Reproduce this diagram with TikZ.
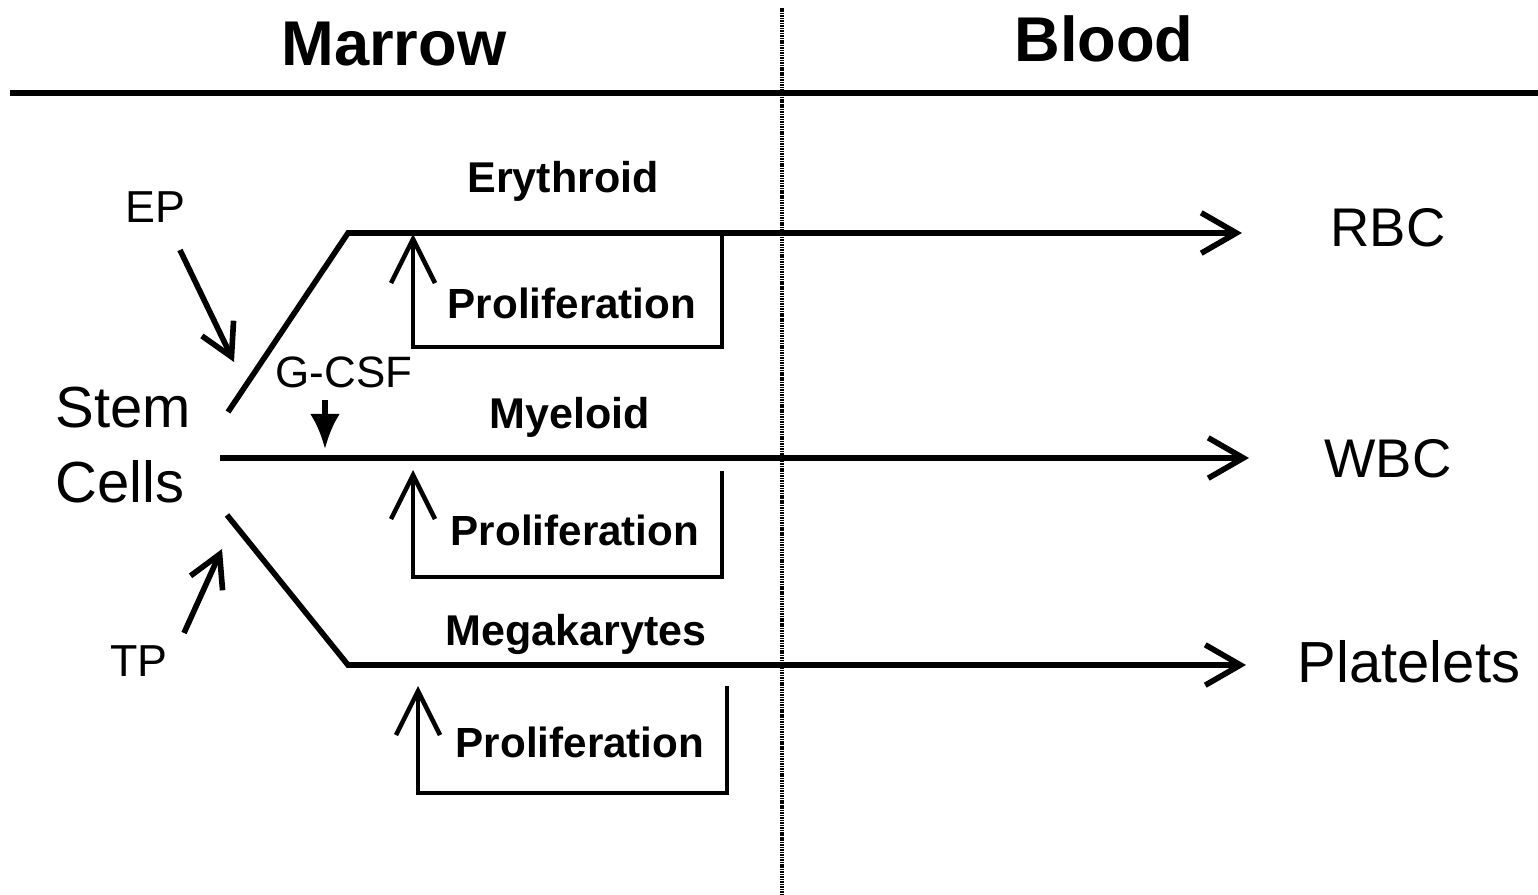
\documentclass[tikz,border=0pt]{standalone}
\usepackage{fontspec}
\setmainfont{Liberation Sans}
\usetikzlibrary{arrows.meta}
\begin{document}
\begin{tikzpicture}[x=0.02cm,y=-0.02cm,
  lbl/.style={inner sep=0pt,anchor=base},
  title/.style={lbl,font=\fontsize{36pt}{40pt}\selectfont\bfseries},
  lineage/.style={lbl,font=\fontsize{24.5pt}{28pt}\selectfont\bfseries},
  prolif/.style={lbl,font=\fontsize{24pt}{28pt}\selectfont\bfseries},
  cell/.style={lbl,font=\fontsize{31pt}{36pt}\selectfont},
  factor/.style={lbl,font=\fontsize{25.5pt}{30pt}\selectfont},
  rule/.style={line width=3.2pt},
  divider/.style={line width=1.8pt,dash pattern=on 0.9pt off 0.5pt},
  flow/.style={line width=3.2pt,-{Straight Barb[length=20pt,width=23pt]}},
  loopback/.style={line width=2.6pt,-{Straight Barb[length=25pt,width=25pt]}},
  cue/.style={line width=3.2pt,-{Straight Barb[length=18pt,width=20pt]}},
  gcue/.style={line width=3pt,-{Latex[length=20pt,width=17pt]}}
]
\useasboundingbox (0,0) rectangle (1538,895);

% header
\node[title] (marrow) at (394,66) {Marrow};
\node[title] (blood) at (1104,62) {Blood};
\coordinate (hl) at (10,93);
\coordinate (hr) at (1538,93);
\draw[rule] (hl) -- (hr);
\coordinate (vt) at (782,8);
\coordinate (vb) at (782,895);
\draw[divider] (vt) -- (vb);

% stem cells and growth factors
\node[cell,anchor=base west,font=\fontsize{33pt}{38pt}\selectfont] (stem) at (55,427) {Stem};
\node[cell,anchor=base west,font=\fontsize{33pt}{38pt}\selectfont] (cells) at (55,502) {Cells};
\node[factor] (ep) at (155,223) {EP};
\node[factor] (tp) at (139,676) {TP};
\node[factor,font=\fontsize{25pt}{30pt}\selectfont] (gcsf) at (344,387) {G-CSF};

% lineage labels
\node[lineage] (ery) at (563,193) {Erythroid};
\node[lineage] (mye) at (570,428) {Myeloid};
\node[lineage] (meg) at (576,645) {Megakarytes};

% blood products
\node[cell] (rbc) at (1388,247) {RBC};
\node[cell] (wbc) at (1388,477) {WBC};
\node[cell,font=\fontsize{33pt}{38pt}\selectfont] (plt) at (1409,682) {Platelets};

% proliferation labels
\node[prolif] (p1) at (572,318) {Proliferation};
\node[prolif] (p2) at (575,545) {Proliferation};
\node[prolif] (p3) at (580,757) {Proliferation};

% erythroid path
\coordinate (e0) at (228,412);
\coordinate (e1) at (348,233);
\coordinate (e2) at (1242,233);
\draw[flow] (e0) -- (e1) -- (e2);

% myeloid path
\coordinate (m0) at (220,458);
\coordinate (m2) at (1249,458);
\draw[flow] (m0) -- (m2);

% megakaryocyte path
\coordinate (k0) at (227,515);
\coordinate (k1) at (348,665);
\coordinate (k2) at (1246,665);
\draw[flow] (k0) -- (k1) -- (k2);

% proliferation loops
\coordinate (a1) at (722,233);
\coordinate (b1) at (722,347);
\coordinate (c1) at (413,347);
\coordinate (d1) at (413,234);
\draw[loopback] (a1) -- (b1) -- (c1) -- (d1);

\coordinate (a2) at (722,471);
\coordinate (b2) at (722,577);
\coordinate (c2) at (413,577);
\coordinate (d2) at (413,470);
\draw[loopback] (a2) -- (b2) -- (c2) -- (d2);

\coordinate (a3) at (727,686);
\coordinate (b3) at (727,793);
\coordinate (c3) at (418,793);
\coordinate (d3) at (418,686);
\draw[loopback] (a3) -- (b3) -- (c3) -- (d3);

% growth factor arrows
\coordinate (ep0) at (180,250);
\coordinate (ep1) at (234,362);
\draw[cue] (ep0) -- (ep1);
\coordinate (tp0) at (184,633);
\coordinate (tp1) at (222,549);
\draw[cue] (tp0) -- (tp1);
\coordinate (g0) at (325,400);
\coordinate (g1) at (325,449);
\draw[gcue] (g0) -- (g1);
\end{tikzpicture}
\end{document}
